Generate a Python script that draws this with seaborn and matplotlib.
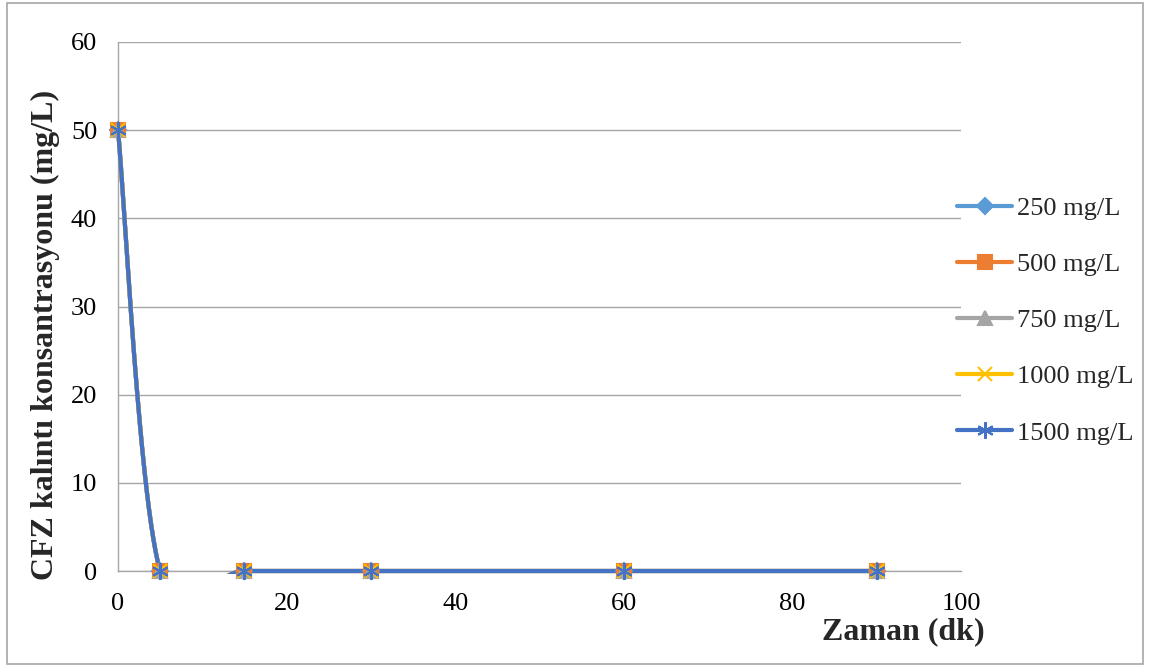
import numpy as np
import pandas as pd
import matplotlib
matplotlib.use("Agg")
import matplotlib.pyplot as plt
import seaborn as sns
from matplotlib.patches import Rectangle
from matplotlib.transforms import Bbox, TransformedBbox

# ---- data ----
time_min = [0, 5, 15, 30, 60, 90]
series_names = ["250 mg/L", "500 mg/L", "750 mg/L", "1000 mg/L", "1500 mg/L"]
conc_250 = [50, 0, 0, 0, 0, 0]
conc_500 = [50, 0, 0, 0, 0, 0]
conc_750 = [50, 0, 0, 0, 0, 0]
conc_1000 = [50, 0, 0, 0, 0, 0]
conc_1500 = [50, 0, 0, 0, 0, 0]
y_ticks = [0, 10, 20, 30, 40, 50, 60]
x_ticks = [0, 20, 40, 60, 80, 100]

colors = ["#5B9BD5", "#ED7D31", "#A5A5A5", "#FFC000", "#4472C4"]
markers = ["D", "s", "^", "x", (6, 2, 0)]
msizes = [8, 10, 10, 10, 12]


def smooth(xs, ys, n=80):
    """Excel-like smoothed line (Catmull-Rom Bezier) through the points."""
    xs = np.asarray(xs, float)
    ys = np.asarray(ys, float)
    P = np.column_stack([xs, ys])
    out = []
    for i in range(len(P) - 1):
        p0 = P[i - 1] if i > 0 else P[i]
        p1, p2 = P[i], P[i + 1]
        p3 = P[i + 2] if i + 2 < len(P) else P[i + 1]
        c1 = p1 + (p2 - p0) / 6.0
        c2 = p2 - (p3 - p1) / 6.0
        t = np.linspace(0, 1, n)[:, None]
        seg = ((1 - t) ** 3) * p1 + 3 * ((1 - t) ** 2) * t * c1 + 3 * (1 - t) * t ** 2 * c2 + t ** 3 * p2
        out.append(seg if i == 0 else seg[1:])
    arr = np.vstack(out)
    return arr[:, 0], arr[:, 1]


sns.set_theme(style="white")
plt.rcParams["font.family"] = ["Liberation Serif", "DejaVu Serif"]

fig = plt.figure(figsize=(11.52, 6.70), dpi=100)
ax = fig.add_axes([118 / 1152, 1 - 571 / 670, (961 - 118) / 1152, (571 - 42) / 670])

clip_box = TransformedBbox(Bbox([[-0.01, -0.005], [1.0, 1.0]]), ax.transAxes)

all_series = [conc_250, conc_500, conc_750, conc_1000, conc_1500]
handles = []
for name, vals, c, m, ms in zip(series_names, all_series, colors, markers, msizes):
    sx, sy = smooth(time_min, vals)
    df_s = pd.DataFrame({"x": sx, "y": sy})
    n_before = len(ax.lines)
    sns.lineplot(data=df_s, x="x", y="y", sort=False, estimator=None, ax=ax,
                 color=c, lw=3, zorder=3, legend=False)
    for ln in ax.lines[n_before:]:
        ln.set_clip_box(clip_box)
    ax.plot(time_min, vals, ls="none", marker=m, color=c, ms=ms,
            mec=c, mew=1.5, zorder=4, clip_on=False)
    h, = ax.plot([], [], color=c, lw=3, marker=m, ms=ms, mec=c, mew=1.5)
    handles.append(h)

ax.set_xlim(0, 100)
ax.set_ylim(0, 60)
ax.set_xticks(x_ticks)
ax.set_yticks(y_ticks)
ax.grid(axis="y", color="#A6A6A6", lw=1)
ax.grid(axis="x", visible=False)
for s in ["top", "right"]:
    ax.spines[s].set_visible(False)
for s in ["left", "bottom"]:
    ax.spines[s].set_color("#A6A6A6")
    ax.spines[s].set_linewidth(1)
ax.tick_params(axis="both", length=0, labelsize=19, colors="black")
ax.tick_params(axis="y", pad=15)
ax.tick_params(axis="x", pad=16)
ax.set_xlabel("")
ax.set_ylabel("")
if ax.get_legend() is not None:
    ax.get_legend().remove()

fig.text(45 / 1152, 1 - 335 / 670, "CFZ kalıntı konsantrasyonu (mg/L)", rotation=90,
         ha="center", va="center", fontsize=23, fontweight="bold")
fig.text(903 / 1152, 1 - 632 / 670, "Zaman (dk)", ha="center", va="center",
         fontsize=23, fontweight="bold")

fig.legend(handles=handles, labels=series_names, loc="center left",
           bbox_to_anchor=(957 / 1152, 1 - 320.5 / 670), frameon=False,
           fontsize=19, handlelength=2.1, handletextpad=0.19, labelspacing=1.24,
           borderpad=0, borderaxespad=0)

fig.patches.append(Rectangle((7 / 1152, 6 / 670), 1136 / 1152, 661 / 670,
                             transform=fig.transFigure, fill=False,
                             edgecolor="#A6A6A6", lw=1.2))

fig.savefig("out.png", dpi=100)
